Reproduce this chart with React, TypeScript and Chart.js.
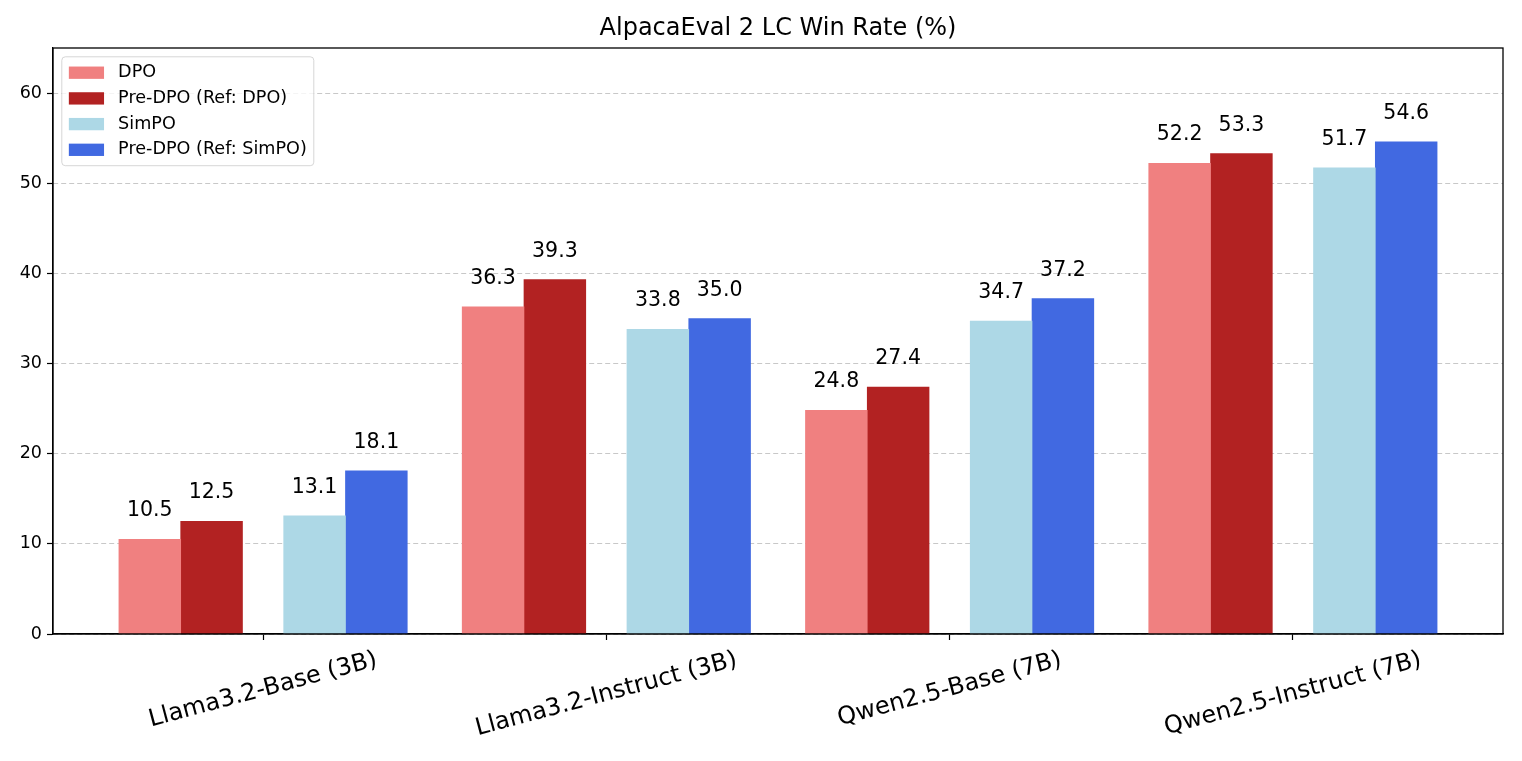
import React, { useEffect, useRef } from "react";
import { Chart, registerables } from "chart.js";

Chart.register(...registerables);

// ---- data ----
const chartTitle = "AlpacaEval 2 LC Win Rate (%)";
const categories = [
  "Llama3.2-Base (3B)",
  "Llama3.2-Instruct (3B)",
  "Qwen2.5-Base (7B)",
  "Qwen2.5-Instruct (7B)",
];
const seriesNames = ["DPO", "Pre-DPO (Ref: DPO)", "SimPO", "Pre-DPO (Ref: SimPO)"];
const dpoValues = [10.5, 36.3, 24.8, 52.2];
const preDpoRefDpoValues = [12.5, 39.3, 27.4, 53.3];
const simpoValues = [13.1, 33.8, 34.7, 51.7];
const preDpoRefSimpoValues = [18.1, 35.0, 37.2, 54.6];
const yTickValues = [0, 10, 20, 30, 40, 50, 60];

// ---- styling / layout ----
const seriesColors = ["#F08080", "#B22222", "#ADD8E6", "#4169E1"];
const FONT = "'DejaVu Sans', sans-serif";
const BAR_WIDTH = 0.18; // in category units
const PAIR_GAP = 0.12; // gap between the DPO pair and the SimPO pair
const barOffsets = [
  -(PAIR_GAP / 2 + 1.5 * BAR_WIDTH),
  -(PAIR_GAP / 2 + 0.5 * BAR_WIDTH),
  PAIR_GAP / 2 + 0.5 * BAR_WIDTH,
  PAIR_GAP / 2 + 1.5 * BAR_WIDTH,
];
const GROUP_EDGE = PAIR_GAP / 2 + 2 * BAR_WIDTH;
const X_MARGIN = 0.05 * (categories.length - 1 + 2 * GROUP_EDGE);
const Y_MAX = 65;
const LABEL_OFFSET = 2; // value units above bar

const allSeries = [dpoValues, preDpoRefDpoValues, simpoValues, preDpoRefSimpoValues];

const overlayPlugin = {
  id: "overlay",
  afterDraw(chart: any) {
    const ctx = chart.ctx as CanvasRenderingContext2D;
    const ca = chart.chartArea;
    const yScale = chart.scales.y;
    const xScale = chart.scales.x;

    // frame
    ctx.save();
    ctx.strokeStyle = "#000";
    ctx.lineWidth = 1.3;
    ctx.strokeRect(ca.left, ca.top, ca.right - ca.left, ca.bottom - ca.top);
    ctx.restore();

    // value labels
    ctx.save();
    ctx.fillStyle = "#000";
    ctx.font = `20.5px ${FONT}`;
    ctx.textAlign = "center";
    ctx.textBaseline = "bottom";
    chart.data.datasets.forEach((ds: any, di: number) => {
      const meta = chart.getDatasetMeta(di);
      meta.data.forEach((el: any, i: number) => {
        const v = allSeries[di][i];
        ctx.fillText(v.toFixed(1), el.x, yScale.getPixelForValue(v + LABEL_OFFSET));
      });
    });
    ctx.restore();

    // rotated category labels (centered under ticks)
    ctx.save();
    ctx.fillStyle = "#000";
    const fsx = 24;
    ctx.font = `${fsx}px ${FONT}`;
    ctx.textAlign = "center";
    ctx.textBaseline = "middle";
    const ang = (15 * Math.PI) / 180;
    categories.forEach((c, i) => {
      const x = xScale.getPixelForValue(i);
      const w = ctx.measureText(c).width;
      const h = fsx * 1.164;
      const bboxH = w * Math.sin(ang) + h * Math.cos(ang);
      const cy = ca.bottom + 12 + bboxH / 2;
      ctx.save();
      ctx.translate(x, cy);
      ctx.rotate(-ang);
      ctx.fillText(c, 0, 0);
      ctx.restore();
    });
    ctx.restore();

    // legend
    ctx.save();
    const fs = 17.6;
    ctx.font = `${fs}px ${FONT}`;
    const bl = ca.left + 0.5 * fs;
    const bt = ca.top + 0.5 * fs;
    const pad = 0.4 * fs;
    const handleW = 2 * fs;
    const handleH = 0.7 * fs;
    const textPad = 0.8 * fs;
    const rowH = 25.7;
    const edge = 15.9;
    const maxW = Math.max(...seriesNames.map((s) => ctx.measureText(s).width));
    const boxW = pad + handleW + textPad + maxW + pad;
    const boxH = 2 * edge + (seriesNames.length - 1) * rowH;
    ctx.beginPath();
    (ctx as any).roundRect(bl, bt, boxW, boxH, 3.5);
    ctx.fillStyle = "rgba(255,255,255,0.8)";
    ctx.fill();
    ctx.strokeStyle = "rgba(204,204,204,0.8)";
    ctx.lineWidth = 1;
    ctx.stroke();
    ctx.textAlign = "left";
    ctx.textBaseline = "middle";
    seriesNames.forEach((s, i) => {
      const cy = bt + edge + i * rowH;
      ctx.fillStyle = seriesColors[i];
      ctx.fillRect(bl + pad, cy - handleH / 2, handleW, handleH);
      ctx.fillStyle = "#000";
      ctx.fillText(s, bl + pad + handleW + textPad, cy);
    });
    ctx.restore();
  },
};

export default function App() {
  const canvasRef = useRef<HTMLCanvasElement | null>(null);

  useEffect(() => {
    if (!canvasRef.current) return;
    const chart = new Chart(canvasRef.current, {
      type: "bar",
      data: {
        datasets: allSeries.map((vals, s) => ({
          label: seriesNames[s],
          data: vals.map((v, i) => ({ x: i + barOffsets[s], y: v })),
          backgroundColor: seriesColors[s],
          borderWidth: 0,
          grouped: false,
          categoryPercentage: 1,
          barPercentage: 1,
        })),
      },
      options: {
        responsive: false,
        animation: false,
        devicePixelRatio: 1,
        layout: { padding: { left: 0, right: 19, top: 0, bottom: 0 } },
        plugins: {
          legend: { display: false },
          tooltip: { enabled: false },
          title: {
            display: true,
            text: chartTitle,
            fullSize: false,
            color: "#000",
            font: { family: FONT, size: 24, weight: "normal" },
            padding: { top: 14, bottom: 5.2 },
          },
        },
        scales: {
          x: {
            type: "linear",
            offset: false,
            min: -GROUP_EDGE - X_MARGIN,
            max: categories.length - 1 + GROUP_EDGE + X_MARGIN,
            afterBuildTicks: (axis: any) => {
              axis.ticks = categories.map((_, i) => ({ value: i }));
            },
            afterFit: (axis: any) => {
              axis.height = 127;
            },
            ticks: { display: false },
            grid: {
              display: true,
              offset: false,
              drawOnChartArea: false,
              drawTicks: true,
              tickLength: 6,
              tickColor: "#000",
              tickWidth: 1.2,
            },
            border: { display: true, color: "#000", width: 1.2 },
          },
          y: {
            type: "linear",
            min: 0,
            max: Y_MAX,
            z: 1,
            afterBuildTicks: (axis: any) => {
              axis.ticks = yTickValues.map((v) => ({ value: v }));
            },
            afterFit: (axis: any) => {
              axis.width = 53;
            },
            ticks: { color: "#000", font: { family: FONT, size: 17.5 }, padding: 5 },
            grid: {
              color: "rgba(176,176,176,0.7)",
              lineWidth: 1,
              drawTicks: true,
              tickLength: 6,
              tickColor: "#000",
              tickWidth: 1.2,
            },
            border: { display: true, color: "#000", width: 1.2, dash: [5, 3] },
          },
        },
      },
      plugins: [overlayPlugin],
    } as any);
    return () => chart.destroy();
  }, []);

  return (
    <div style={{ position: "absolute", left: 0, top: 0, width: 1522, height: 761, background: "#fff" }}>
      <canvas ref={canvasRef} width={1522} height={761} style={{ display: "block" }} />
    </div>
  );
}
